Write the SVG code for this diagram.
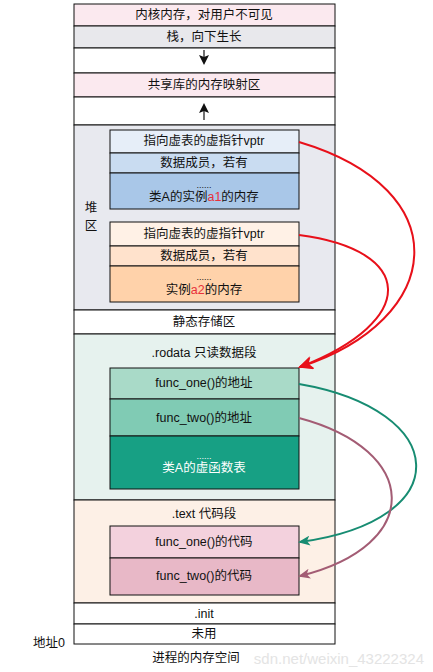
<svg xmlns="http://www.w3.org/2000/svg" width="433" height="672" viewBox="0 0 433 672">
<style>
text{font-family:"Liberation Sans","Noto Sans CJK SC",sans-serif;font-size:12.5px;fill:#111;text-anchor:middle;dominant-baseline:central}
.b{stroke:#111;stroke-width:1}
.r{fill:#e8303a}
.w{fill:#fff}
.dots{font-size:9px}
</style>
<defs>
<marker id="mr" markerWidth="15" markerHeight="13" refX="13" refY="6.5" orient="auto" markerUnits="userSpaceOnUse"><path d="M0,0 L15,6.5 L0,13 L4,6.5 z" fill="#e8101a"/></marker>
<marker id="mg" markerWidth="12" markerHeight="10" refX="10" refY="5" orient="auto" markerUnits="userSpaceOnUse"><path d="M0,0 L12,5 L0,10 L3,5 z" fill="#178c72"/></marker>
<marker id="mm" markerWidth="12" markerHeight="10" refX="10" refY="5" orient="auto" markerUnits="userSpaceOnUse"><path d="M0,0 L12,5 L0,10 L3,5 z" fill="#a35c74"/></marker>
<marker id="mk" markerWidth="10" markerHeight="10" refX="5" refY="5" orient="auto" markerUnits="userSpaceOnUse"><path d="M0,0 L10,5 L0,10 L2,5 z" fill="#111"/></marker>
</defs>
<text x="424" y="658" style="fill:#e4e4e4;font-size:15px;text-anchor:end">sdn.net/weixin_43222324</text>
<g id="kernel"><rect class="b" x="74" y="4" width="261" height="22" fill="#fbe9ef"/><text x="204" y="15">内核内存，对用户不可见</text></g>
<g id="stack"><rect class="b" x="74" y="26" width="261" height="22" fill="#e8e8ec"/><text x="204" y="37">栈，向下生长</text></g>
<g id="gap1"><rect class="b" x="74" y="48" width="261" height="25" fill="#fff"/></g>
<g id="shared"><rect class="b" x="74" y="73" width="261" height="24" fill="#fbe9ef"/><text x="204" y="85">共享库的内存映射区</text></g>
<g id="gap2"><rect class="b" x="74" y="97" width="261" height="28" fill="#fff"/></g>
<g id="heap">
<rect class="b" x="74" y="125" width="261" height="185" fill="#e8e9ef"/>
<text x="91" y="208">堆</text><text x="91" y="226">区</text>
</g>
<g id="objA1">
<rect class="b" x="110" y="130" width="189" height="23" fill="#e6eef8"/><text x="204" y="141">指向虚表的虚指针vptr</text>
<rect class="b" x="110" y="153" width="189" height="20" fill="#c9dcf1"/><text x="204" y="163">数据成员，若有</text>
<rect class="b" x="110" y="173" width="189" height="36" fill="#a9c7e8"/><text class="dots" x="204" y="185">......</text>
<text x="204" y="197">类A的实例<tspan class="r">a1</tspan>的内存</text>
</g>
<g id="objA2">
<rect class="b" x="110" y="222" width="189" height="24" fill="#fff1e6"/><text x="204" y="234">指向虚表的虚指针vptr</text>
<rect class="b" x="110" y="246" width="189" height="20" fill="#ffe2cc"/><text x="204" y="256">数据成员，若有</text>
<rect class="b" x="110" y="266" width="189" height="36" fill="#ffd2aa"/><text class="dots" x="204" y="277">......</text>
<text x="204" y="290">实例<tspan class="r">a2</tspan>的内存</text>
</g>
<g id="static"><rect class="b" x="74" y="310" width="261" height="24" fill="#fff"/><text x="204" y="322">静态存储区</text></g>
<g id="rodata">
<rect class="b" x="74" y="334" width="261" height="166" fill="#e6f2ee"/><text x="204" y="353">.rodata 只读数据段</text>
</g>
<g id="vtable">
<rect class="b" x="110" y="368" width="189" height="31" fill="#a9dac8"/><text x="204" y="383">func_one()的地址</text>
<rect class="b" x="110" y="399" width="189" height="37" fill="#80cbb4"/><text x="204" y="418">func_two()的地址</text>
<rect class="b" x="110" y="436" width="189" height="53" fill="#17a084"/><text class="dots w" x="204" y="456">......</text>
<text class="w" x="204" y="468">类A的虚函数表</text>
</g>
<g id="textseg">
<rect class="b" x="74" y="500" width="261" height="103" fill="#fdf0e6"/><text x="204" y="514">.text 代码段</text>
</g>
<g id="code">
<rect class="b" x="110" y="526" width="189" height="32" fill="#f3d1dd"/><text x="204" y="542">func_one()的代码</text>
<rect class="b" x="110" y="558" width="189" height="37" fill="#e8b8c7"/><text x="204" y="576">func_two()的代码</text>
</g>
<g id="init"><rect class="b" x="74" y="603" width="261" height="21" fill="#fff"/><text x="204" y="614">.init</text></g>
<g id="unused"><rect class="b" x="74" y="624" width="261" height="20" fill="#fff"/><text x="204" y="634">未用</text></g>
<g id="labels">
<text x="49" y="643">地址0</text>
<text x="196" y="658">进程的内存空间</text>
</g>
<g id="connectors" fill="none">
<path d="M204,50 V60" stroke="#111" stroke-width="1.2" marker-end="url(#mk)"/>
<path d="M204,120 V108" stroke="#111" stroke-width="1.2" marker-end="url(#mk)"/>
<path d="M299,142 C460,190 445,320 300,367" stroke="#e8101a" stroke-width="2" marker-end="url(#mr)"/>
<path d="M299,235 C415,250 420,320 300,367" stroke="#e8101a" stroke-width="2" marker-end="url(#mr)"/>
<path d="M299,384 C450,410 460,520 300,542" stroke="#178c72" stroke-width="2" marker-end="url(#mg)"/>
<path d="M299,418 C420,450 425,545 300,576" stroke="#a35c74" stroke-width="2" marker-end="url(#mm)"/>
</g>
</svg>
